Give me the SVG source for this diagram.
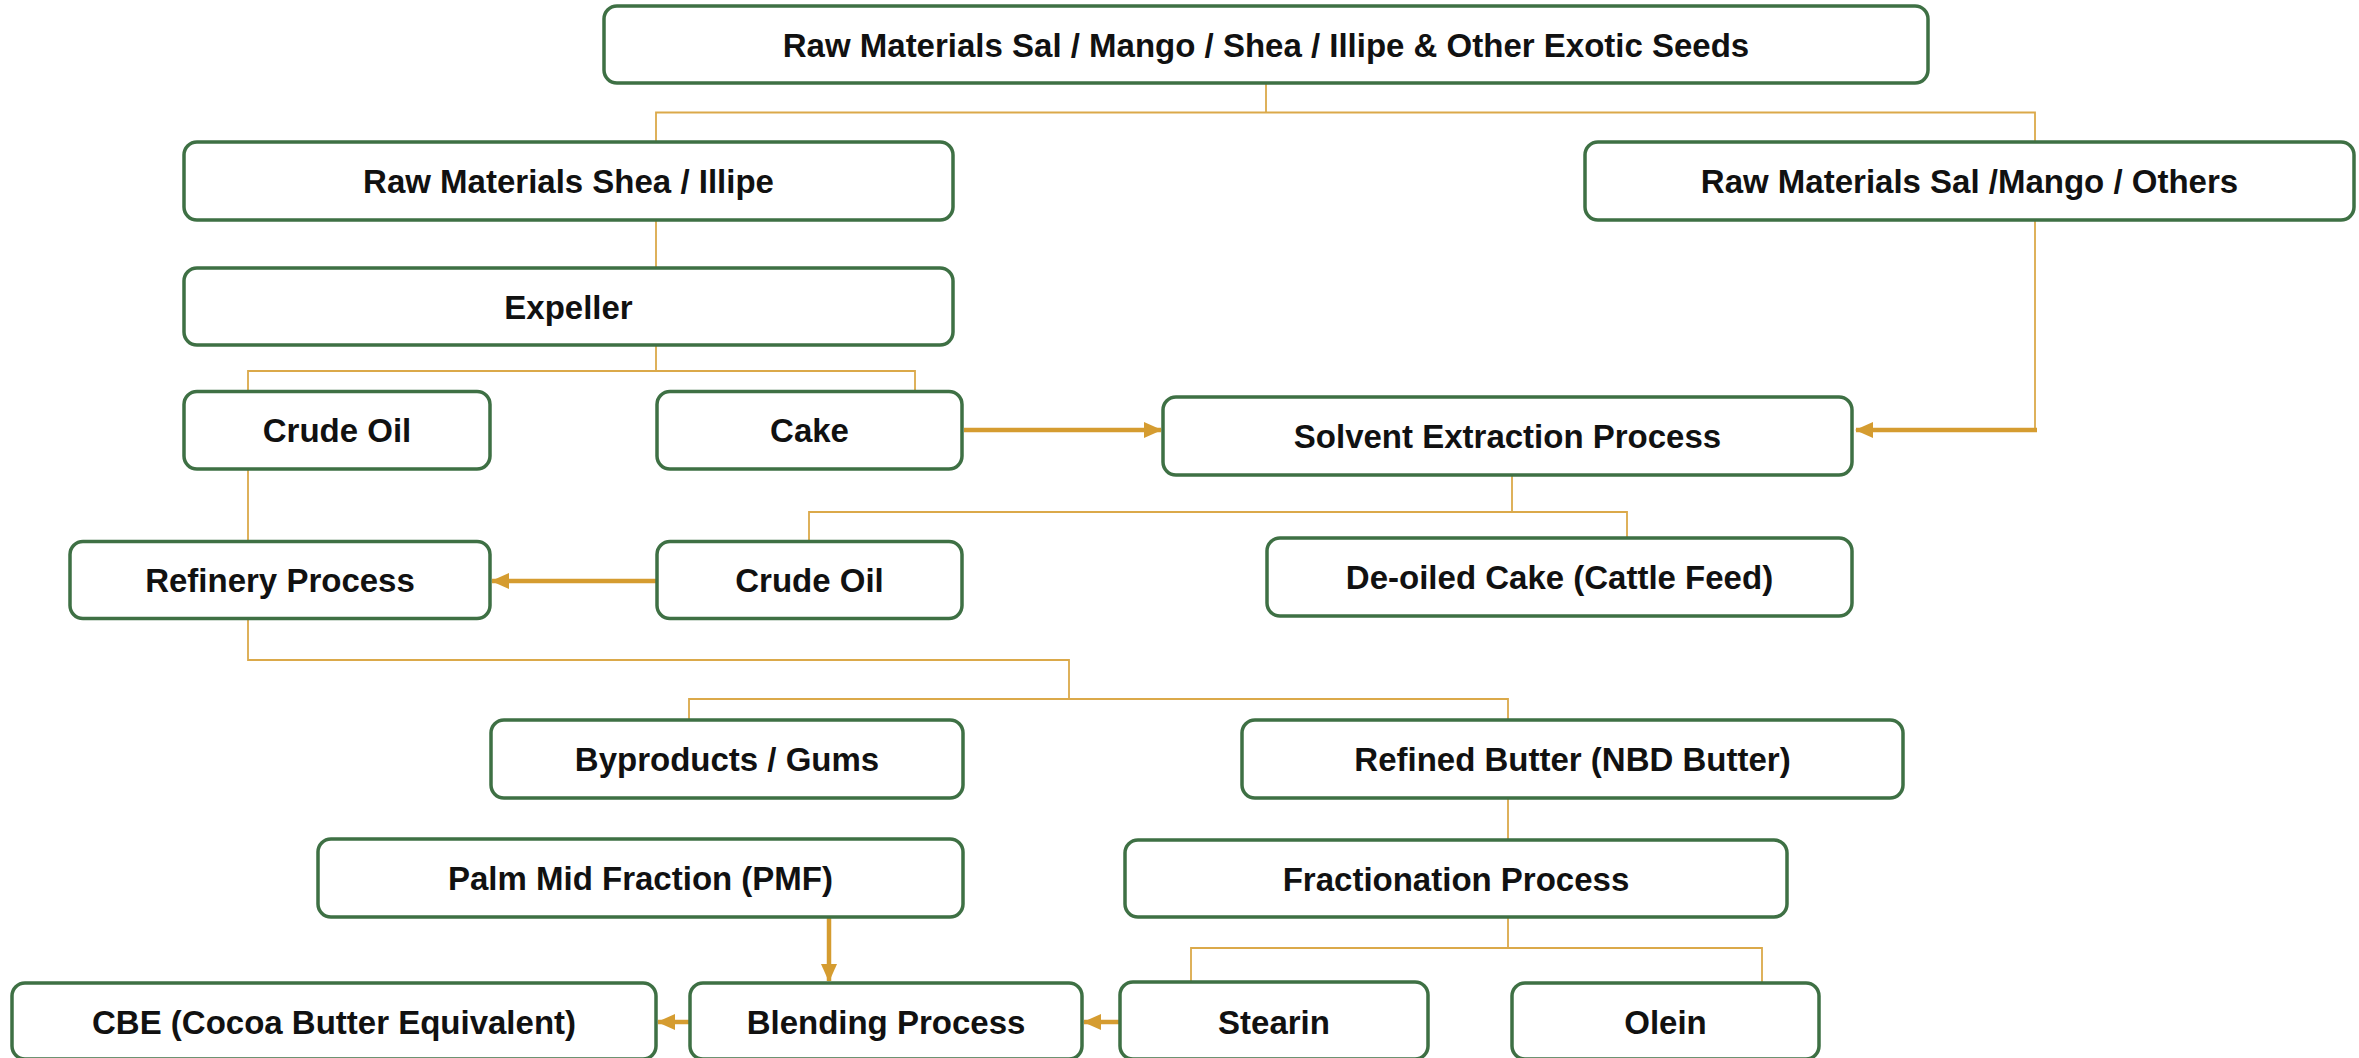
<svg xmlns="http://www.w3.org/2000/svg" width="2359" height="1058" viewBox="0 0 2359 1058">
<style>
.box{fill:#ffffff;stroke:#3e7044;stroke-width:3.5}
.lbl{font-family:"Liberation Sans",Arial,sans-serif;font-weight:bold;font-size:33px;fill:#111111;text-anchor:middle}
.ln{fill:none;stroke:#dba94a;stroke-width:1.8}
.ar{fill:none;stroke:#d59c30;stroke-width:4.5}
</style>
<defs>
<marker id="ah" markerUnits="userSpaceOnUse" markerWidth="18" markerHeight="18" viewBox="0 0 18 18" refX="17" refY="9" orient="auto">
<path d="M0,1 L18,9 L0,17 Z" fill="#d59c30"/>
</marker>
</defs>
<rect width="2359" height="1058" fill="#ffffff"/>
<g id="connectors">
<path class="ln" d="M1266,83 V112.5 M656,142 V112.5 H2035 V142"/>
<path class="ln" d="M656,220 V268"/>
<path class="ln" d="M656,345 V371 M248,391.5 V371 H915 V391.5"/>
<path class="ln" d="M248,469 V541.5"/>
<path class="ln" d="M2035,220 V430"/>
<path class="ar" d="M2037,430 H1856" marker-end="url(#ah)"/>
<path class="ar" d="M964,430 H1161" marker-end="url(#ah)"/>
<path class="ln" d="M1512,475 V512 M809,541.5 V512 H1627 V538"/>
<path class="ar" d="M657,581 H492" marker-end="url(#ah)"/>
<path class="ln" d="M248,618.5 V660 H1069 V699 M689,720 V699 H1508 V720"/>
<path class="ln" d="M1508,798 V840"/>
<path class="ln" d="M1508,917 V948 M1191,982 V948 H1762 V983"/>
<path class="ar" d="M829,917 V981" marker-end="url(#ah)"/>
<path class="ar" d="M690,1022 H658" marker-end="url(#ah)"/>
<path class="ar" d="M1120,1022 H1084" marker-end="url(#ah)"/>
</g>
<g id="n-top"><rect class="box" x="604" y="6" width="1324" height="77" rx="13"/><text class="lbl" x="1266" y="57">Raw Materials Sal / Mango / Shea / Illipe &amp; Other Exotic Seeds</text></g>
<g id="n-shea"><rect class="box" x="184" y="142" width="769" height="78" rx="13"/><text class="lbl" x="568.5" y="193">Raw Materials Shea / Illipe</text></g>
<g id="n-salmango"><rect class="box" x="1585" y="142" width="769" height="78" rx="13"/><text class="lbl" x="1969.5" y="193">Raw Materials Sal /Mango / Others</text></g>
<g id="n-expeller"><rect class="box" x="184" y="268" width="769" height="77" rx="13"/><text class="lbl" x="568.5" y="318.5">Expeller</text></g>
<g id="n-crude1"><rect class="box" x="184" y="391.5" width="306" height="77.5" rx="13"/><text class="lbl" x="337" y="442">Crude Oil</text></g>
<g id="n-cake"><rect class="box" x="657" y="391.5" width="305" height="77.5" rx="13"/><text class="lbl" x="809.5" y="442">Cake</text></g>
<g id="n-solvent"><rect class="box" x="1163" y="397" width="689" height="78" rx="13"/><text class="lbl" x="1507.5" y="448">Solvent Extraction Process</text></g>
<g id="n-refinery"><rect class="box" x="70" y="541.5" width="420" height="77" rx="13"/><text class="lbl" x="280" y="592">Refinery Process</text></g>
<g id="n-crude2"><rect class="box" x="657" y="541.5" width="305" height="77" rx="13"/><text class="lbl" x="809.5" y="592">Crude Oil</text></g>
<g id="n-deoiled"><rect class="box" x="1267" y="538" width="585" height="78" rx="13"/><text class="lbl" x="1559.5" y="589">De-oiled Cake (Cattle Feed)</text></g>
<g id="n-byproducts"><rect class="box" x="491" y="720" width="472" height="78" rx="13"/><text class="lbl" x="727" y="771">Byproducts / Gums</text></g>
<g id="n-refined"><rect class="box" x="1242" y="720" width="661" height="78" rx="13"/><text class="lbl" x="1572.5" y="771">Refined Butter (NBD Butter)</text></g>
<g id="n-pmf"><rect class="box" x="318" y="839" width="645" height="78" rx="13"/><text class="lbl" x="640.5" y="890">Palm Mid Fraction (PMF)</text></g>
<g id="n-fractionation"><rect class="box" x="1125" y="840" width="662" height="77" rx="13"/><text class="lbl" x="1456" y="890.5">Fractionation Process</text></g>
<g id="n-cbe"><rect class="box" x="12" y="983" width="644" height="76" rx="13"/><text class="lbl" x="334" y="1034">CBE (Cocoa Butter Equivalent)</text></g>
<g id="n-blending"><rect class="box" x="690" y="983" width="392" height="76" rx="13"/><text class="lbl" x="886" y="1034">Blending Process</text></g>
<g id="n-stearin"><rect class="box" x="1120" y="982" width="308" height="77" rx="13"/><text class="lbl" x="1274" y="1034">Stearin</text></g>
<g id="n-olein"><rect class="box" x="1512" y="983" width="307" height="76" rx="13"/><text class="lbl" x="1665.5" y="1034">Olein</text></g>
</svg>
